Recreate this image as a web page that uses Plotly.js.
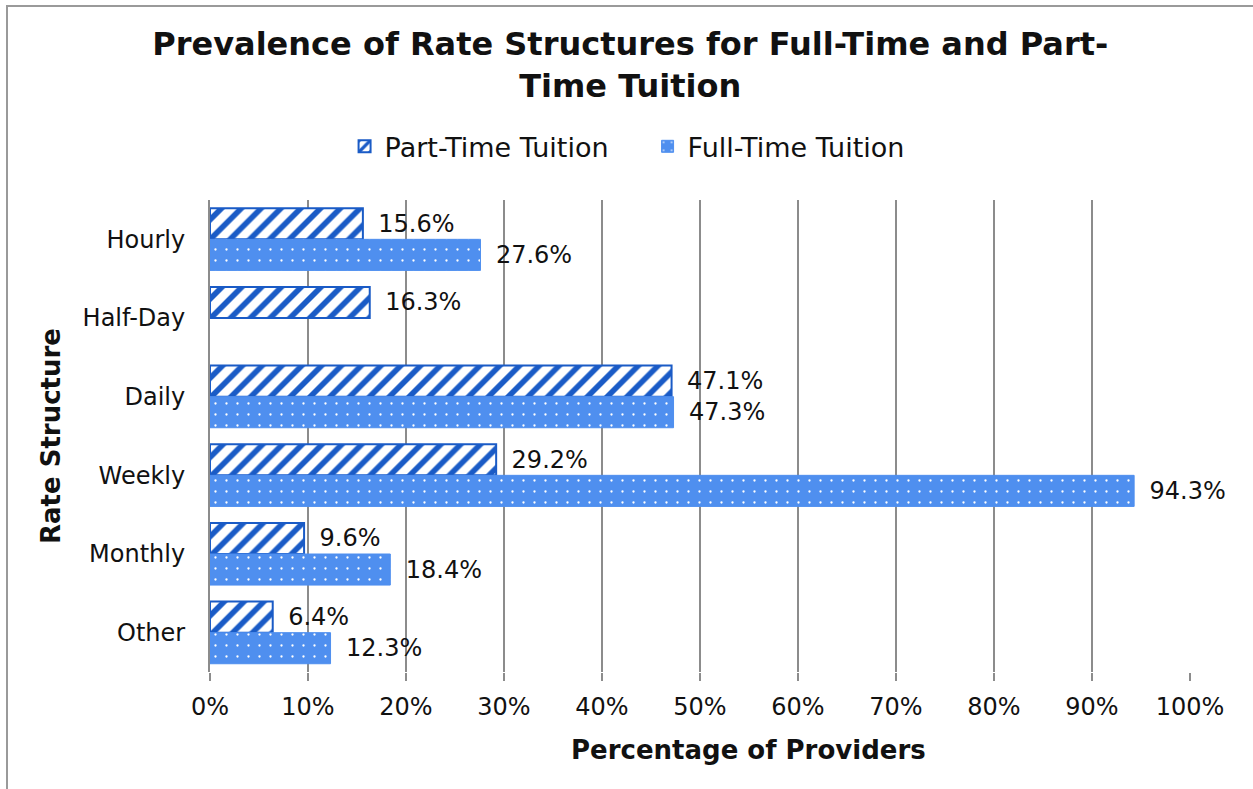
<!DOCTYPE html>
<html>
<head>
<meta charset="utf-8">
<script src="https://cdn.plot.ly/plotly-3.0.1.min.js"></script>
<style>
  html, body { margin: 0; padding: 0; background: #fff; }
  #chart { width: 1253px; height: 789px; position: absolute; left: 0; top: 0; }
  #frame { position: absolute; left: 6px; top: 5px; width: 1260px; height: 800px;
           border-left: 2px solid #9a9a9a; border-top: 2px solid #9a9a9a; pointer-events: none; z-index: 5; }
</style>
</head>
<body>
<div id="chart"></div>
<div id="frame"></div>
<script>
const categories = ["Hourly", "Half-Day", "Daily", "Weekly", "Monthly", "Other"];
const partTime = [15.6, 16.3, 47.1, 29.2, 9.6, 6.4];
const fullTime = [27.6, null, 47.3, 94.3, 18.4, 12.3];
const seriesNames = ["Part-Time Tuition", "Full-Time Tuition"];
const xTickVals = [0, 10, 20, 30, 40, 50, 60, 70, 80, 90, 100];
const xTickText = ["0%", "10%", "20%", "30%", "40%", "50%", "60%", "70%", "80%", "90%", "100%"];
const xAxisTitle = "Percentage of Providers";
const yAxisTitle = "Rate Structure";

const FONT = "DejaVu Sans, Verdana, sans-serif";
const DARK = "#1a5bc6";
const LIGHT = "#4f8fef";
const PAD = "\u00a0\u2009";

const traces = [
  {
    type: "bar", orientation: "h", name: seriesNames[0],
    y: categories, x: partTime,
    marker: {
      color: "#ffffff",
      line: { color: DARK, width: 2 },
      pattern: { shape: "/", fgcolor: DARK, bgcolor: "#ffffff", fgopacity: 1, size: 14, solidity: 0.4, fillmode: "replace" }
    },
    text: partTime.map(v => v == null ? "" : PAD + v.toFixed(1) + "%"),
    textposition: "outside", cliponaxis: false,
    textfont: { family: FONT, size: 24, color: "#111" },
    hoverinfo: "x+y"
  },
  {
    type: "bar", orientation: "h", name: seriesNames[1],
    y: categories, x: fullTime,
    marker: {
      color: LIGHT,
      line: { color: LIGHT, width: 1 },
      pattern: { shape: ".", fgcolor: "#ffffff", bgcolor: LIGHT, fgopacity: 1, size: 11, solidity: 0.035, fillmode: "replace" }
    },
    text: fullTime.map(v => v == null ? "" : PAD + v.toFixed(1) + "%"),
    textposition: "outside", cliponaxis: false,
    textfont: { family: FONT, size: 24, color: "#111" },
    hoverinfo: "x+y"
  }
];

const layout = {
  width: 1253, height: 789,
  paper_bgcolor: "#ffffff", plot_bgcolor: "#ffffff",
  font: { family: FONT, color: "#111", size: 24 },
  margin: { l: 210, r: 63, t: 200, b: 117 },
  title: {
    text: "Prevalence of Rate Structures for Full-Time and Part-<br>Time Tuition",
    font: { family: FONT, size: 32, color: "#111", weight: "bold" },
    x: 0.503, xref: "container", xanchor: "center",
    y: 0.93, yref: "container", yanchor: "middle"
  },
  showlegend: true,
  legend: {
    orientation: "h", xref: "container", yref: "container",
    x: 0.275, xanchor: "left", y: 0.814, yanchor: "middle",
    font: { family: FONT, size: 27, color: "#111" },
    traceorder: "normal", itemwidth: 30,
    entrywidth: 258, entrywidthmode: "pixels"
  },
  barmode: "group", bargap: 0.21, bargroupgap: 0,
  xaxis: {
    range: [0, 100], tickvals: xTickVals, ticktext: xTickText,
    showgrid: true, gridcolor: "#8c8c8c", gridwidth: 2,
    zeroline: false, showline: false,
    ticks: "outside", ticklen: 8, tickwidth: 2, tickcolor: "#8c8c8c",
    ticklabelstandoff: 5,
    tickfont: { family: FONT, size: 24, color: "#111" },
    fixedrange: true
  },
  yaxis: {
    type: "category", categoryorder: "array", categoryarray: categories,
    autorange: "reversed",
    showgrid: false, zeroline: false,
    showline: true, linecolor: "#8c8c8c", linewidth: 2,
    ticks: "", ticklabelstandoff: 18,
    tickfont: { family: FONT, size: 24, color: "#111" },
    title: { text: yAxisTitle, standoff: 14,
             font: { family: FONT, size: 26, color: "#111", weight: "bold" } },
    fixedrange: true
  },
  annotations: [
    { text: xAxisTitle, xref: "paper", yref: "paper", x: 0.549, y: -0.166,
      xanchor: "center", yanchor: "middle", showarrow: false,
      font: { family: FONT, size: 26, color: "#111", weight: "bold" } }
  ]
};

Plotly.newPlot("chart", traces, layout, { displayModeBar: false, staticPlot: true });
</script>
</body>
</html>
